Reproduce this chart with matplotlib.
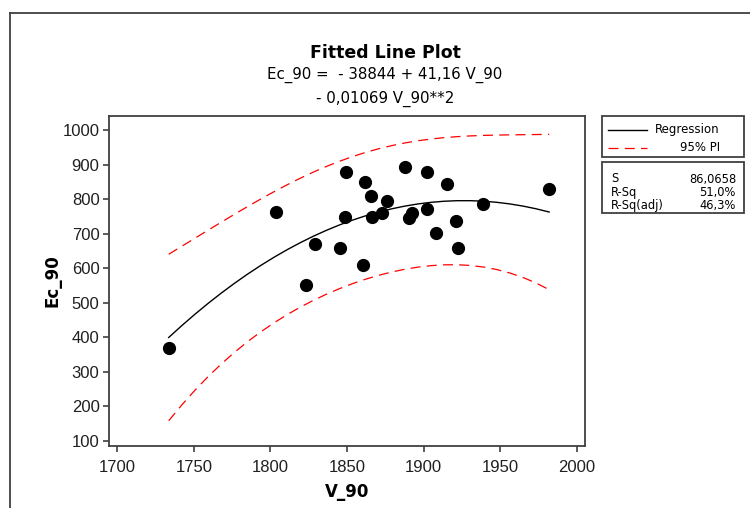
import numpy as np
import matplotlib.pyplot as plt
from matplotlib.lines import Line2D
from matplotlib.patches import Rectangle

plt.rcParams['font.family'] = ['Liberation Sans', 'DejaVu Sans']

# observations
v_90 = [1733.6, 1803.5, 1823.0, 1828.9, 1845.2, 1848.7, 1849.5, 1860.4,
        1861.6, 1865.7, 1866.5, 1872.6, 1875.9, 1887.9, 1890.5, 1892.4,
        1902.4, 1902.4, 1908.3, 1915.3, 1921.3, 1922.3, 1939.0, 1981.9]
ec_90 = [368.5, 763.3, 551.0, 668.9, 657.3, 747.1, 877.5, 608.0,
         850.2, 808.8, 748.0, 759.6, 793.5, 892.0, 744.2, 759.6,
         877.5, 771.1, 702.5, 843.6, 737.3, 657.3, 785.6, 828.2]

equation = ["Ec_90 =  - 38844 + 41,16 V_90", "- 0,01069 V_90**2"]
stat_names = ["S", "R-Sq", "R-Sq(adj)"]
stat_values = ["86,0658", "51,0%", "46,3%"]
t_crit = 2.080  # t(0.975, 21)

x = np.array(v_90)
y = np.array(ec_90)

# quadratic fit and 95% prediction interval
X = np.column_stack((np.ones_like(x), x, x ** 2))
beta, res, _, _ = np.linalg.lstsq(X, y, rcond=None)
n = len(x)
s = np.sqrt(np.sum((y - X @ beta) ** 2) / (n - 3))
xtx_inv = np.linalg.inv(X.T @ X)

xs = np.linspace(x.min(), x.max(), 30)
Xs = np.column_stack((np.ones_like(xs), xs, xs ** 2))
fit = Xs @ beta
h = np.einsum('ij,jk,ik->i', Xs, xtx_inv, Xs)
half = t_crit * s * np.sqrt(1 + h)

fig = plt.figure(figsize=(7.5, 5.08), dpi=100)
ax = fig.add_axes([0.1457, 0.1226, 0.6343, 0.6496])

ax.plot(xs, fit, color='black', lw=1.0)
ax.plot(xs, fit + half, color='red', lw=0.9, linestyle=(0, (8, 5)))
ax.plot(xs, fit - half, color='red', lw=0.9, linestyle=(0, (8, 5)))
ax.plot(x, y, 'o', color='black', ms=8.5)

ax.set_xlim(1694.8, 2005.3)
ax.set_ylim(85.4, 1041.4)
ax.set_xticks(np.arange(1700, 2001, 50))
ax.set_yticks(np.arange(100, 1001, 100))
ax.tick_params(direction='out', length=4, width=1.2, color='#404040',
               labelsize=12, pad=3, labelcolor='#202020')
ax.tick_params(axis='x', pad=6)
for sp in ax.spines.values():
    sp.set_color('#404040')
    sp.set_linewidth(1.3)

ax.set_xlabel('V_90', fontsize=12, fontweight='bold', family='DejaVu Sans', labelpad=6)
ax.set_ylabel('Ec_90', fontsize=12, fontweight='bold', family='DejaVu Sans', labelpad=1)

fig.text(385 / 750, 1 - 53 / 508, 'Fitted Line Plot', ha='center', va='center',
         fontsize=12.5, fontweight='bold', family='DejaVu Sans')
fig.text(385 / 750, 1 - 75 / 508, equation[0], ha='center', va='center',
         fontsize=10.8, family='DejaVu Sans')
fig.text(385 / 750, 1 - 99 / 508, equation[1], ha='center', va='center',
         fontsize=10.8, family='DejaVu Sans')

# outer frame
fig.add_artist(Line2D([9.5 / 750, 9.5 / 750], [0, 1 - 13 / 508],
                      transform=fig.transFigure, color='#404040', lw=1.3))
fig.add_artist(Line2D([9.5 / 750, 1.01], [1 - 13 / 508, 1 - 13 / 508],
                      transform=fig.transFigure, color='#404040', lw=1.3))

# legend box
def px(xp, yp):
    return xp / 750, 1 - yp / 508

bx0, bx1 = 601.7, 743.5
fig.add_artist(Rectangle(px(bx0, 157), (bx1 - bx0) / 750, 41.3 / 508,
                         transform=fig.transFigure, fill=False,
                         edgecolor='#404040', lw=1.3))
fig.add_artist(Line2D([608 / 750, 647 / 750], [1 - 130 / 508] * 2,
                      transform=fig.transFigure, color='black', lw=1.0))
fig.add_artist(Line2D([608 / 750, 647 / 750], [1 - 148 / 508] * 2,
                      transform=fig.transFigure, color='red', lw=0.9,
                      linestyle=(0, (8, 5))))
fig.text(*px(720, 130), 'Regression', ha='right', va='center', fontsize=8.5,
         family='DejaVu Sans')
fig.text(*px(720, 148), '95% PI', ha='right', va='center', fontsize=8.5,
         family='DejaVu Sans')

# summary box
fig.add_artist(Rectangle(px(bx0, 213), (bx1 - bx0) / 750, 50.5 / 508,
                         transform=fig.transFigure, fill=False,
                         edgecolor='#404040', lw=1.3))
for i, (nm, val) in enumerate(zip(stat_names, stat_values)):
    yy = 179 + i * 13.5
    fig.text(*px(611, yy), nm, ha='left', va='center', fontsize=8.3,
             family='DejaVu Sans')
    fig.text(*px(736, yy), val, ha='right', va='center', fontsize=8.3,
             family='DejaVu Sans')

fig.savefig('out.png', dpi=100)
